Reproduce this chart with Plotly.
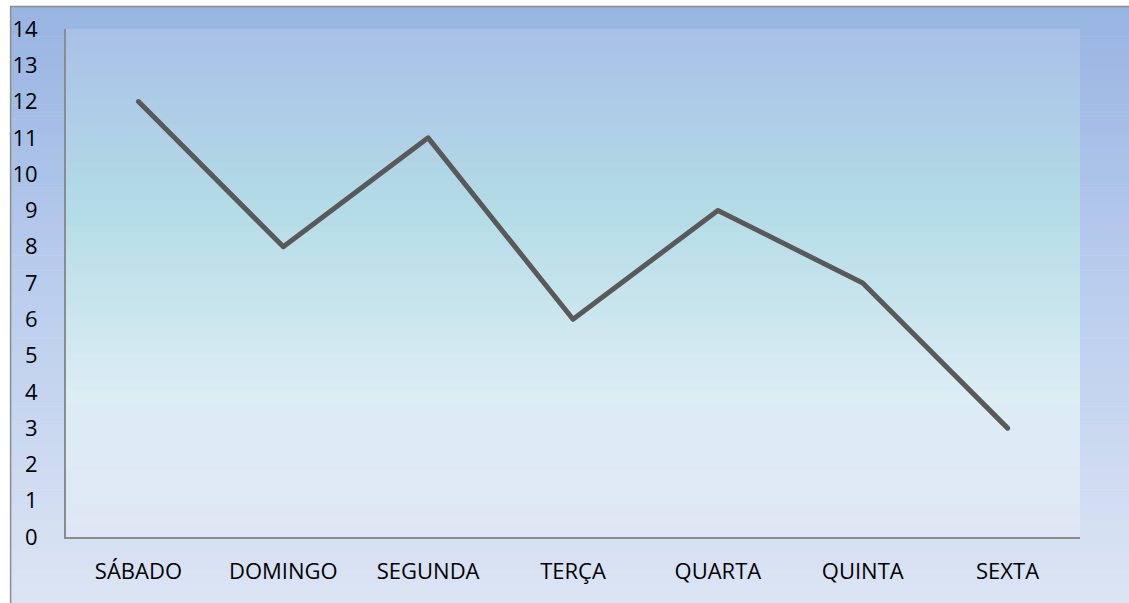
import plotly.graph_objects as go

categories = ["SÁBADO", "DOMINGO", "SEGUNDA", "TERÇA", "QUARTA", "QUINTA", "SEXTA"]
values = [12, 8, 11, 6, 9, 7, 3]
y_ticks = list(range(0, 15))

W, H = 1129, 603
L, R, T, B = 64, 1080, 29, 537  # plot area in pixels


def px_x(p):
    return (p - L) / (R - L)


def px_y(p):
    return (B - p) / (B - T)


def lerp(c1, c2, t):
    return tuple(round(a + (b - a) * t) for a, b in zip(c1, c2))


def grad_color(stops, t):
    for i in range(len(stops) - 1):
        t0, c0 = stops[i]
        t1, c1 = stops[i + 1]
        if t <= t1:
            return lerp(c0, c1, (t - t0) / (t1 - t0) if t1 > t0 else 0)
    return stops[-1][1]


def hx(h):
    h = h.lstrip("#")
    return tuple(int(h[i:i + 2], 16) for i in (0, 2, 4))


shapes = []

# outer chart area gradient
outer_stops = [(0, hx("#98b4e2")), (0.5, hx("#bccfee")), (1, hx("#dde5f4"))]
oy0, oy1 = 6, 610
n = 80
for i in range(n):
    a = oy0 + (oy1 - oy0) * i / n
    b = oy0 + (oy1 - oy0) * (i + 1) / n + 0.6
    c = grad_color(outer_stops, (i + 0.5) / n)
    shapes.append(dict(type="rect", xref="paper", yref="paper", layer="below",
                       x0=px_x(8), x1=px_x(1140), y0=px_y(a), y1=px_y(b),
                       fillcolor="rgb(%d,%d,%d)" % c, line=dict(width=0)))
# outer border
shapes.append(dict(type="rect", xref="paper", yref="paper", layer="below",
                   x0=px_x(8.5), x1=px_x(1140), y0=px_y(6.5), y1=px_y(615),
                   fillcolor="rgba(0,0,0,0)", line=dict(color="#8c8c8c", width=1.5)))

# plot area gradient
inner_stops = [(0, hx("#a9c0e7")), (0.35, hx("#b3dce6")), (0.72, hx("#dcedf4")), (1, hx("#e0e6f5"))]
for i in range(n):
    a = T + (B - T) * i / n
    b = T + (B - T) * (i + 1) / n + 0.6
    c = grad_color(inner_stops, (i + 0.5) / n)
    shapes.append(dict(type="rect", xref="paper", yref="paper", layer="below",
                       x0=0, x1=1, y0=px_y(a), y1=max(px_y(b), 0),
                       fillcolor="rgb(%d,%d,%d)" % c, line=dict(width=0)))

fig = go.Figure()
fig.add_trace(go.Scatter(x=categories, y=values, mode="lines",
                         line=dict(color="#595959", width=5), showlegend=False,
                         hoverinfo="skip"))

font = dict(family="Open Sans", size=22, color="#000000")

fig.update_layout(
    width=W, height=H,
    margin=dict(l=L, r=W - R, t=T, b=H - B),
    paper_bgcolor="white",
    plot_bgcolor="rgba(0,0,0,0)",
    shapes=shapes,
    font=font,
    xaxis=dict(type="category", range=[-0.5, 6.5], showgrid=False, zeroline=False,
               showline=True, linecolor="#8c8c8c", linewidth=2, ticks="",
               tickfont=font, ticklabelstandoff=14, fixedrange=True),
    yaxis=dict(range=[0, 14], tickvals=y_ticks, showgrid=False, zeroline=False,
               showline=True, linecolor="#8c8c8c", linewidth=2, ticks="",
               tickfont=font, ticklabelstandoff=22, fixedrange=True),
)

fig.write_html("out.html", config={"displayModeBar": False},
               post_script="document.body.style.margin='0';document.body.style.overflow='hidden';"
                           "document.querySelectorAll('.scatterlayer path.js-line').forEach(function(p){"
                           "p.style.strokeLinecap='round';p.style.strokeLinejoin='round';});")
